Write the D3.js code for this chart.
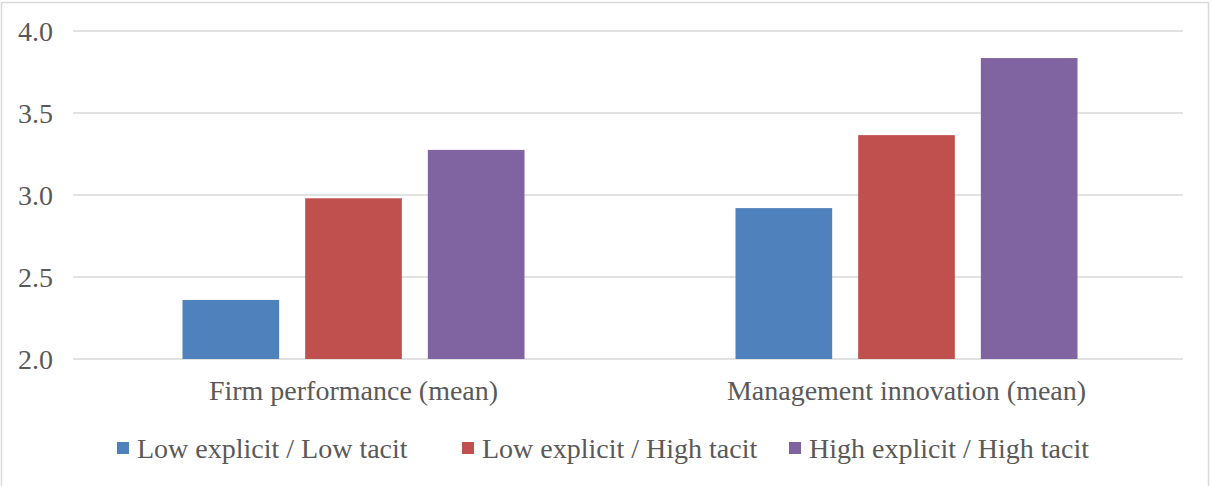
<html>
  <head>
    <title>Knowledge groups</title>
    <meta charset="utf-8" />
    <script src="https://cdnjs.cloudflare.com/ajax/libs/d3/7.6.1/d3.min.js"></script>
    <style>
      body {
        margin: 0;
        background: #fff;
      }
      .grid line {
        stroke: #d9d9d9;
        stroke-width: 1.5;
      }
    </style>
  </head>
  <body>
    <svg width="1212" height="486"></svg>
  </body>

  <script>
    const categories = ["Firm performance (mean)", "Management innovation (mean)"];
    const series = [
      "Low explicit / Low tacit",
      "Low explicit / High tacit",
      "High explicit / High tacit",
    ];
    const lowLow = [2.36, 2.92];
    const lowHigh = [2.98, 3.365];
    const highHigh = [3.275, 3.835];
    const yTicks = [2.0, 2.5, 3.0, 3.5, 4.0];
    const colors = ["#4f81bd", "#c0504d", "#8064a2"];

    const values = [lowLow, lowHigh, highHigh];
    const data = categories.map((c, i) => ({
      category: c,
      bars: series.map((s, j) => ({ series: s, value: values[j][i] })),
    }));

    const font = "Liberation Serif, Times New Roman, serif";
    const textColor = "#595959";

    let svg = d3.select("svg"),
      margin = { top: 31, right: 29, bottom: 127, left: 77 },
      width = +svg.attr("width") - margin.left - margin.right,
      height = +svg.attr("height") - margin.top - margin.bottom;

    // chart border
    svg
      .append("rect")
      .attr("x", 1.5)
      .attr("y", 2.5)
      .attr("width", 1207)
      .attr("height", 520)
      .attr("fill", "none")
      .attr("stroke", "#d9d9d9")
      .attr("stroke-width", 1.5);

    let x0 = d3.scaleBand().domain(categories).range([0, width]),
      x1 = d3
        .scaleBand()
        .domain(series)
        .range([0, x0.bandwidth()])
        .paddingInner(0.212)
        .paddingOuter(0.86),
      y = d3.scaleLinear().domain([2, 4]).range([height, 0]);

    let g = svg
      .append("g")
      .attr("transform", `translate(${margin.left},${margin.top})`);

    // gridlines
    g.append("g")
      .attr("class", "grid")
      .selectAll("line")
      .data(yTicks)
      .enter()
      .append("line")
      .attr("x1", -4)
      .attr("x2", width)
      .attr("y1", (d) => y(d))
      .attr("y2", (d) => y(d));

    // y labels
    g.append("g")
      .selectAll("text")
      .data(yTicks)
      .enter()
      .append("text")
      .attr("x", -24)
      .attr("y", (d) => y(d))
      .attr("dy", "0.34em")
      .attr("text-anchor", "end")
      .attr("font-family", font)
      .attr("font-size", 28)
      .attr("fill", textColor)
      .text((d) => d.toFixed(1));

    // bars
    let groups = g
      .selectAll(".group")
      .data(data)
      .enter()
      .append("g")
      .attr("class", "group")
      .attr("transform", (d) => `translate(${x0(d.category)},0)`);

    groups
      .selectAll("rect")
      .data((d) => d.bars)
      .enter()
      .append("rect")
      .attr("x", (d) => x1(d.series))
      .attr("y", (d) => y(d.value))
      .attr("width", x1.bandwidth())
      .attr("height", (d) => height - y(d.value))
      .attr("fill", (d, i) => colors[i]);

    // category labels
    g.append("g")
      .selectAll("text")
      .data(categories)
      .enter()
      .append("text")
      .attr("x", (d) => x0(d) + x0.bandwidth() / 2)
      .attr("y", height + 41)
      .attr("text-anchor", "middle")
      .attr("font-family", font)
      .attr("font-size", 28)
      .attr("fill", textColor)
      .text((d) => d);

    // legend
    const legendX = [117, 462, 789];
    let legend = svg
      .append("g")
      .selectAll("g")
      .data(series)
      .enter()
      .append("g")
      .attr("transform", (d, i) => `translate(${legendX[i]},448)`);

    legend
      .append("rect")
      .attr("x", 0)
      .attr("y", -6)
      .attr("width", 12)
      .attr("height", 12)
      .attr("fill", (d, i) => colors[i]);

    legend
      .append("text")
      .attr("x", 20)
      .attr("y", 0)
      .attr("dy", "0.34em")
      .attr("font-family", font)
      .attr("font-size", 28)
      .attr("fill", textColor)
      .text((d) => d);
  </script>
</html>
